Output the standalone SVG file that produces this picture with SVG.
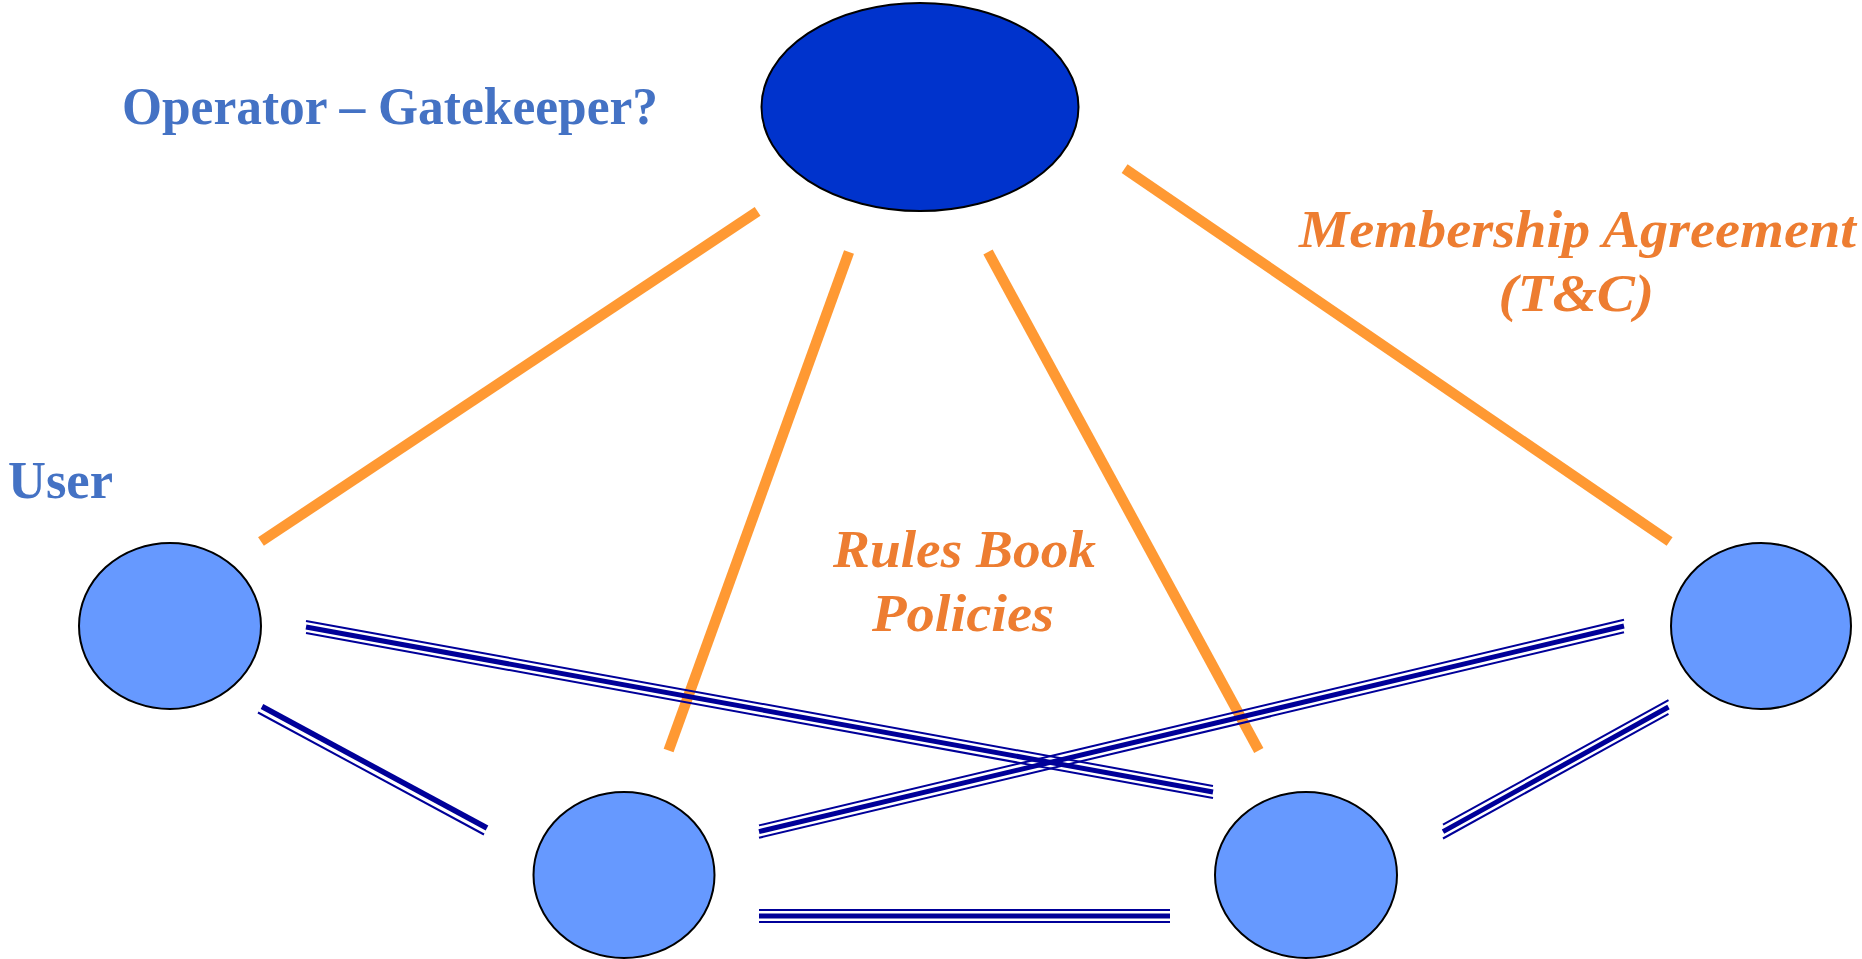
<svg xmlns="http://www.w3.org/2000/svg" width="1862" height="959" viewBox="0 0 1862 959">
<style>
.op{stroke:#FF9933;stroke-width:10.5;fill:none;stroke-linecap:butt}
.bt{stroke:#000099;stroke-width:2;fill:none}
.bk{stroke:#000099;stroke-width:5;fill:none}
.bk2{stroke:#000099;stroke-width:5.5;fill:none}
.node{stroke:#000;stroke-width:2}
.top{fill:#0033CC}
.usr{fill:#6699FF}
.lblb{font-family:"Liberation Serif",serif;font-weight:bold;fill:#4472C4;font-size:52px}
.lblo{font-family:"Liberation Serif",serif;font-weight:bold;font-style:italic;fill:#ED7D31;font-size:53px}
</style>
<rect width="1862" height="959" fill="#fff"/>
<g id="connectors">
  <line class="op" x1="757.6" y1="211.4" x2="261" y2="541.5"/>
  <line class="op" x1="849" y1="252" x2="668.6" y2="750.5"/>
  <line class="op" x1="988" y1="252" x2="1258.8" y2="750.5"/>
  <line class="op" x1="1124.6" y1="168.6" x2="1669.6" y2="541.5"/>
  <g id="c-user-br">
    <line class="bt" x1="306" y1="620.9" x2="1213" y2="785.9"/>
    <line class="bk" x1="306" y1="627" x2="1213" y2="792"/>
    <line class="bt" x1="306" y1="633.1" x2="1213" y2="798.1"/>
  </g>
  <g id="c-user-bl">
    <line class="bk2" x1="262" y1="706.5" x2="487" y2="828"/>
    <line class="bt" x1="258" y1="712.5" x2="484" y2="834.5"/>
  </g>
  <g id="c-bl-r">
    <line class="bt" x1="759" y1="825.4" x2="1624" y2="619.8"/>
    <line class="bk" x1="759" y1="831.6" x2="1624" y2="626"/>
    <line class="bt" x1="759" y1="837.8" x2="1624" y2="632.2"/>
  </g>
  <g id="c-bl-br">
    <line class="bt" x1="759" y1="910" x2="1170" y2="910"/>
    <line class="bk" x1="759" y1="916" x2="1170" y2="916"/>
    <line class="bt" x1="759" y1="922" x2="1170" y2="922"/>
  </g>
  <g id="c-br-r">
    <line class="bt" x1="1443" y1="824.7" x2="1668.5" y2="700.1"/>
    <line class="bk" x1="1443" y1="831.6" x2="1668.5" y2="707"/>
    <line class="bt" x1="1443" y1="838.5" x2="1668.5" y2="713.9"/>
  </g>
</g>
<g id="operator">
  <ellipse class="node top" cx="920" cy="107" rx="158.5" ry="104"/>
  <text class="lblb" x="122" y="124" textLength="536" lengthAdjust="spacingAndGlyphs">Operator – Gatekeeper?</text>
</g>
<g id="user">
  <ellipse class="node usr" cx="170" cy="626" rx="91" ry="83"/>
  <text class="lblb" x="8" y="498" textLength="105" lengthAdjust="spacingAndGlyphs">User</text>
</g>
<g id="node-bl">
  <ellipse class="node usr" cx="624" cy="875" rx="90.5" ry="83"/>
</g>
<g id="node-br">
  <ellipse class="node usr" cx="1306" cy="875" rx="91" ry="83"/>
</g>
<g id="node-r">
  <ellipse class="node usr" cx="1761" cy="626" rx="90" ry="83"/>
</g>
<g id="label-membership">
  <text class="lblo" x="1299" y="246.6" textLength="557" lengthAdjust="spacingAndGlyphs">Membership Agreement</text>
  <text class="lblo" x="1498.5" y="310.6" textLength="155.5" lengthAdjust="spacingAndGlyphs">(T&amp;C)</text>
</g>
<g id="label-rules">
  <text class="lblo" x="833" y="566.6" textLength="263" lengthAdjust="spacingAndGlyphs">Rules Book</text>
  <text class="lblo" x="872" y="631" textLength="182" lengthAdjust="spacingAndGlyphs">Policies</text>
</g>
</svg>
